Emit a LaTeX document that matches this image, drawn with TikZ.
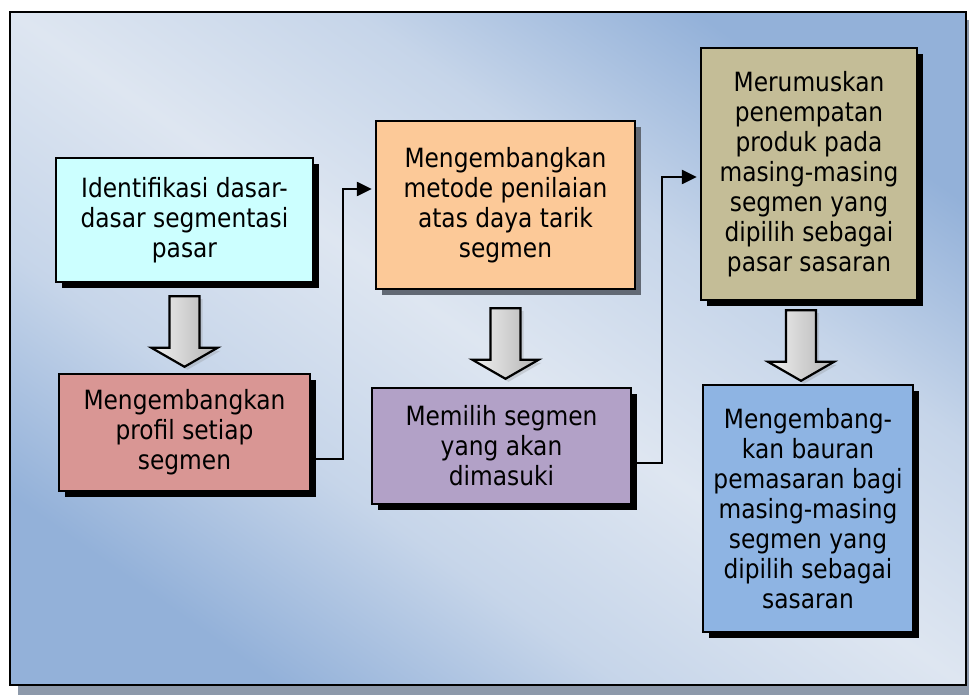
\documentclass[tikz,border=0pt]{standalone}
\usepackage{fontspec}
\setmainfont{DejaVu Sans}[FakeStretch=0.88]
\usetikzlibrary{positioning, arrows.meta, calc, shadows}
\definecolor{framelight}{RGB}{222,230,241}
\definecolor{frameblue}{RGB}{147,177,217}
\colorlet{framemid}{framelight!68!frameblue}
\definecolor{frameshadow}{RGB}{141,153,170}
\definecolor{identfill}{RGB}{204,255,255}
\definecolor{proffill}{RGB}{217,150,148}
\definecolor{assessfill}{RGB}{252,201,152}
\definecolor{selectfill}{RGB}{178,161,199}
\definecolor{posfill}{RGB}{196,189,151}
\definecolor{mixfill}{RGB}{142,180,227}
\definecolor{greyshadow}{RGB}{98,105,116}
\pgfdeclareverticalshading{framegrad}{100bp}{color(0bp)=(frameblue); color(25bp)=(frameblue);
  color(37.5bp)=(framemid); color(50bp)=(framelight); color(62.5bp)=(framemid);
  color(75bp)=(frameblue); color(100bp)=(frameblue)}
\tikzset{
  stepbox/.style={
    rectangle, draw=black, line width=2.4pt, inner sep=0pt, align=center,
    font=\fontsize{26.5}{30}\selectfont,
    drop shadow={shadow xshift=6pt, shadow yshift=-6pt, fill=#1, opacity=1}
  },
  stepbox/.default=black,
  conn/.style={draw, line width=2.4pt, -{Triangle[length=15pt,width=14pt]}, shorten >=3pt},
  blockarrow/.style={draw=black, line width=2.2pt, left color=gray!10, right color=gray!60,
    drop shadow={shadow xshift=3pt, shadow yshift=-3pt, opacity=.25}},
}

\begin{document}
\begin{tikzpicture}[x=1pt, y=-1pt]
  \useasboundingbox (0,0) rectangle (969,695);
  % frame
  \fill[frameshadow] (18,20) rectangle (975,700);
  \begin{scope}[y=1pt, yshift=-695pt]
    \shade[shading=framegrad, shading angle=-35.2] (10,10) rectangle (966,683);
  \end{scope}
  \draw[line width=2.8pt] (10,12) rectangle (966,685);

  \node[stepbox, fill=identfill, minimum width=257pt, minimum height=124pt] (ident) at (184.5,220)
    {Identifikasi dasar-\\dasar segmentasi\\pasar};
  \node[stepbox, fill=proffill, minimum width=251pt, minimum height=117pt] (prof) at (184.5,432.5)
    {Mengembangkan\\profil setiap\\segmen};
  \node[stepbox=greyshadow, fill=assessfill, minimum width=259pt, minimum height=168pt] (assess) at (505.5,205)
    {Mengembangkan\\metode penilaian\\atas daya tarik\\segmen};
  \node[stepbox, fill=selectfill, minimum width=259pt, minimum height=116pt] (select) at (501.5,446)
    {Memilih segmen\\yang akan\\dimasuki};
  \node[stepbox, fill=posfill, minimum width=216pt, minimum height=252pt] (pos) at (809,174)
    {Merumuskan\\penempatan\\produk pada\\masing-masing\\segmen yang\\dipilih sebagai\\pasar sasaran};
  \node[stepbox, fill=mixfill, minimum width=210pt, minimum height=247pt] (mix) at (808,508.5)
    {Mengembang-\\kan bauran\\pemasaran bagi\\masing-masing\\segmen yang\\dipilih sebagai\\sasaran};

  % block arrows
  \foreach \a/\b/\dx/\gt/\gb in {ident/prof/0/13/6, assess/select/0/18/8, pos/mix/-8/9/3} {
    \coordinate (atop) at ($(\a.south)+(\dx,\gt)$);
    \coordinate (atip) at ($(atop |- \b.north)+(0,-\gb)$);
    \draw[blockarrow] ($(atop)+(-15,0)$) -- ($(atop)+(15,0)$) -- ($(atip)+(15,-19)$)
      -- ($(atip)+(33,-19)$) -- (atip) -- ($(atip)+(-33,-19)$) -- ($(atip)+(-15,-19)$) -- cycle;
  }

  % connectors
  \coordinate (ja) at (343,459);
  \coordinate (jb) at (343,189);
  \coordinate (jc) at (662,463);
  \coordinate (jd) at (662,177);
  \draw[conn] (prof.east |- ja) -- (ja) -- (jb) -- (assess.west |- jb);
  \draw[conn] (select.east |- jc) -- (jc) -- (jd) -- (pos.west |- jd);
\end{tikzpicture}
\end{document}
